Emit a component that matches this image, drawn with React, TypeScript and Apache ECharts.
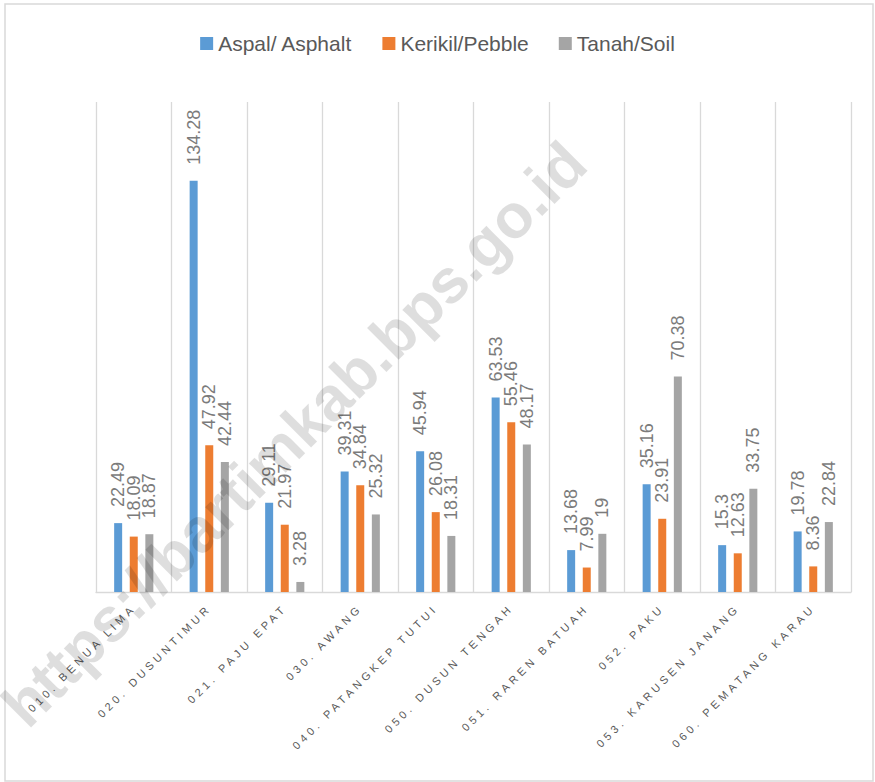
import React, { useEffect, useRef } from "react";
import * as echarts from "echarts";

const categories = [
  "010. BENUA LIMA",
  "020. DUSUNTIMUR",
  "021. PAJU EPAT",
  "030. AWANG",
  "040. PATANGKEP TUTUI",
  "050. DUSUN TENGAH",
  "051. RAREN BATUAH",
  "052. PAKU",
  "053. KARUSEN JANANG",
  "060. PEMATANG KARAU",
];
const aspal = [22.49, 134.28, 29.11, 39.31, 45.94, 63.53, 13.68, 35.16, 15.3, 19.78];
const kerikil = [18.09, 47.92, 21.97, 34.84, 26.08, 55.46, 7.99, 23.91, 12.63, 8.36];
const tanah = [18.87, 42.44, 3.28, 25.32, 18.31, 48.17, 19, 70.38, 33.75, 22.84];
const seriesNames = ["Aspal/ Asphalt", "Kerikil/Pebble", "Tanah/Soil"];
const seriesColors = ["#5b9bd5", "#ed7d31", "#a5a5a5"];
const watermarkText = "https://bartimkab.bps.go.id";

export default function App() {
  const ref = useRef<HTMLDivElement>(null);
  useEffect(() => {
    document.body.style.margin = "0";
    const chart = echarts.init(ref.current!, null, { renderer: "svg" });
    const values = [aspal, kerikil, tanah];
    chart.setOption({
      animation: false,
      backgroundColor: "#ffffff",
      textStyle: { fontFamily: "Liberation Sans" },
      legend: {
        data: seriesNames,
        left: "center",
        top: 28,
        icon: "rect",
        itemWidth: 13,
        itemHeight: 13,
        itemGap: 30,
        textStyle: { fontSize: 21, color: "#595959", fontFamily: "Liberation Sans" },
      },
      grid: { left: 96, right: 24, top: 102, bottom: 190, containLabel: false, outerBoundsMode: "none" },
      xAxis: {
        type: "category",
        data: categories,
        axisLine: { lineStyle: { color: "#d9d9d9", width: 1.3 } },
        axisTick: { show: false },
        splitLine: { show: true, lineStyle: { color: "#d9d9d9", width: 1.3 } },
        axisLabel: {
          interval: 0,
          rotate: 45,
          fontSize: 11,
          color: "#595959",
          margin: 14,
          fontFamily: "Liberation Sans",
        },
      },
      yAxis: { type: "value", min: 0, max: 160, show: false },
      series: seriesNames.map((name, i) => ({
        name,
        type: "bar",
        data: values[i],
        barWidth: 8,
        barGap: "95%",
        itemStyle: { color: seriesColors[i] },
        label: {
          show: true,
          position: "top",
          rotate: 90,
          align: "left",
          verticalAlign: "middle",
          distance: 16,
          fontSize: 18,
          color: "#7b7b7b",
          fontFamily: "Liberation Sans",
        },
      })),
      graphic: [
        {
          type: "rect",
          z: -1,
          shape: { x: 5, y: 4, width: 868, height: 777 },
          style: { fill: "none", stroke: "#d9d9d9", lineWidth: 1.5 },
        },
        {
          type: "text",
          x: 294,
          y: 434,
          rotation: Math.PI / 4,
          z: 100,
          style: {
            text: watermarkText,
            fontSize: 62,
            fontWeight: "bold",
            fontFamily: "Liberation Sans",
            fill: "rgba(0,0,0,0.13)",
            align: "center",
            verticalAlign: "middle",
          },
        },
      ],
    });
    return () => chart.dispose();
  }, []);
  return (
    <>
      <style>{`.chart-root svg text[style*="11px"] { letter-spacing: 3.8px; }`}</style>
      <div className="chart-root" ref={ref} style={{ width: 875, height: 782 }} />
    </>
  );
}
